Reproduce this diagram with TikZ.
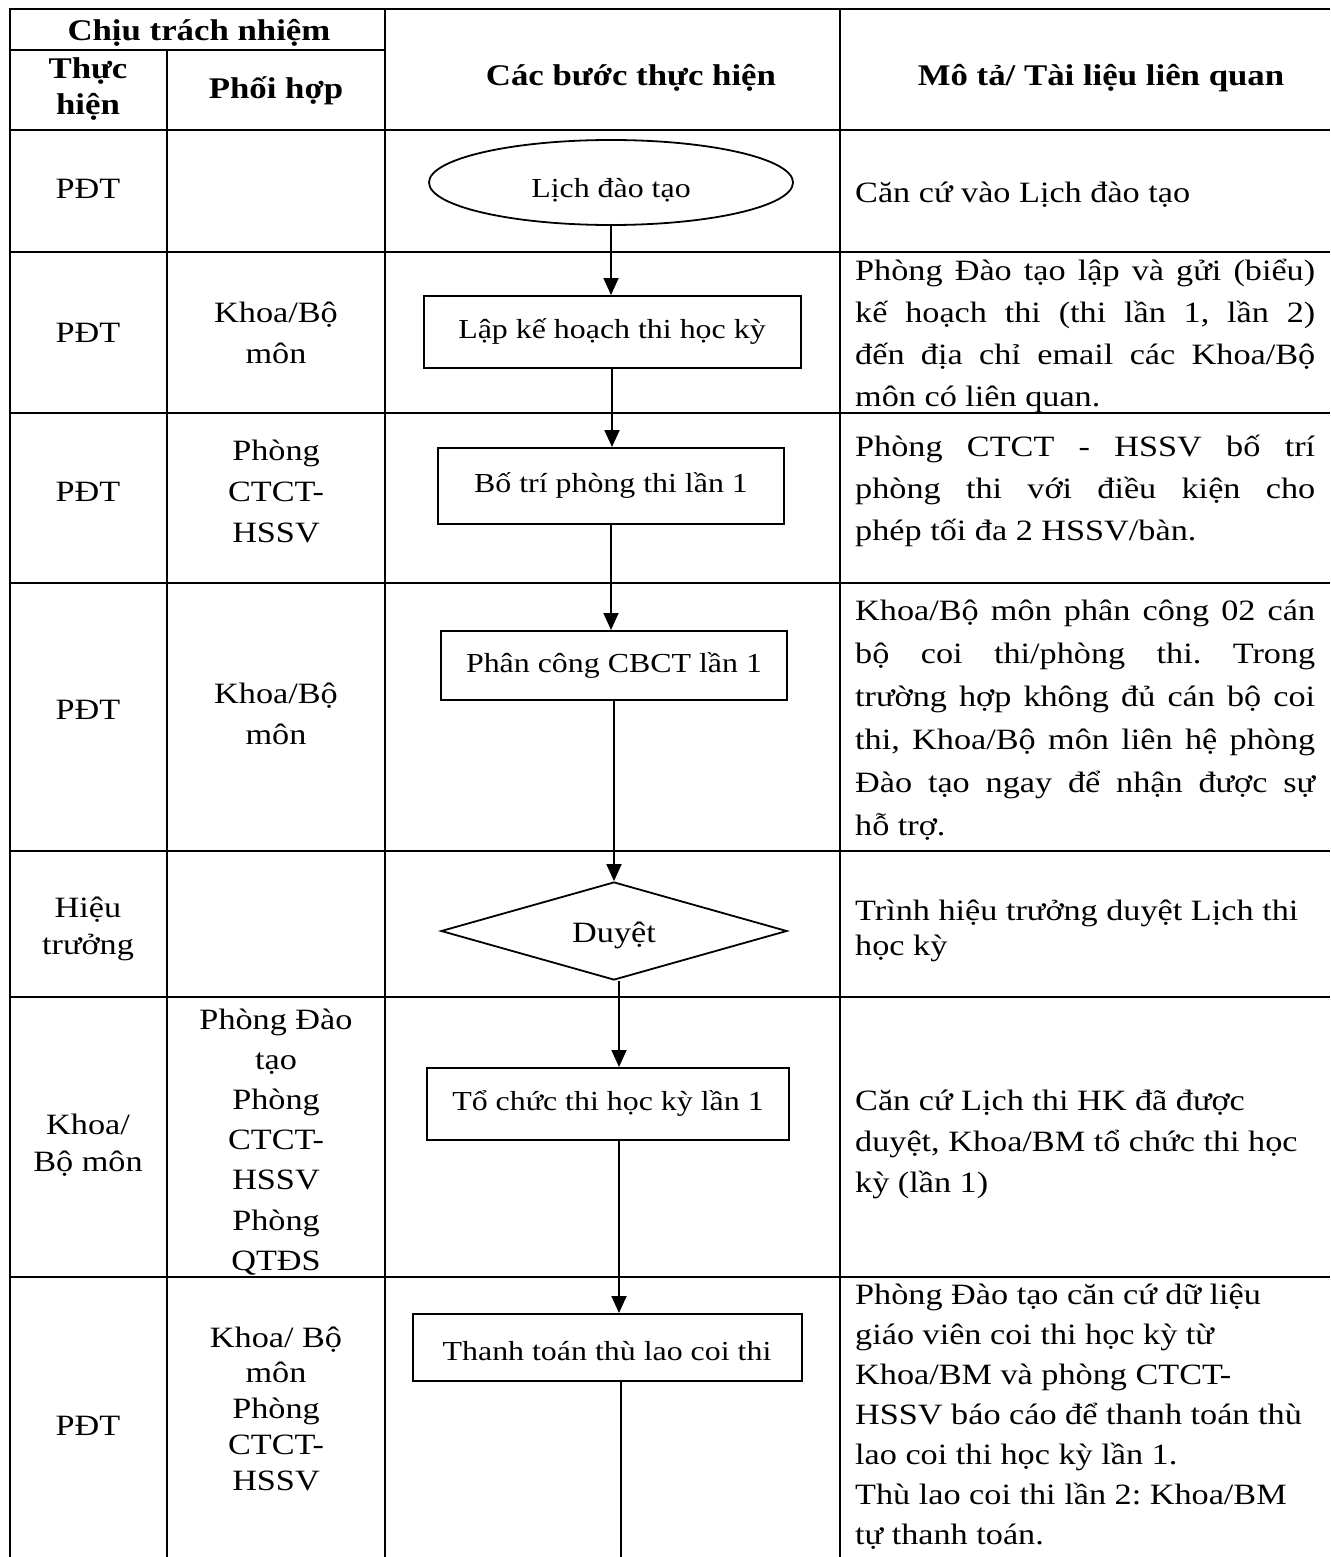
\documentclass[tikz,border=0pt]{standalone}
\usepackage{fontspec}
\setmainfont{Liberation Serif}[FakeStretch=1.16]
\usetikzlibrary{shapes.geometric,arrows.meta}
\frenchspacing
\newcommand\jl[1]{\makebox[460pt][s]{#1}}
\tikzset{
  tx/.style={inner sep=0pt, anchor=base, font=\fontsize{29.5}{36}\selectfont\frenchspacing},
  dx/.style={tx, anchor=base west},
  hx/.style={inner sep=0pt, anchor=base, font=\bfseries\fontsize{30}{36}\selectfont},
  bx/.style={draw, line width=2pt, inner sep=0pt, text height=20pt, text depth=7pt,
             font=\fontsize{27.5}{33}\selectfont},
  hl/.style={line width=2.8pt},
  vl/.style={line width=2pt},
  arr/.style={line width=1.8pt, -{Triangle[length=17pt,width=15pt]}},
}
\begin{document}
\begin{tikzpicture}[x=1pt,y=-1pt]
\useasboundingbox (0,0) rectangle (1330,1557);
\fill[white] (0,0) rectangle (1330,1557);
% table grid
\foreach \yy in {9,130,252,413,583,851,997,1277}
  \draw[hl] (9,\yy) -- (1330,\yy);
\draw[hl] (9,50) -- (385,50);
\draw[vl] (10,8) -- (10,1557);
\draw[vl] (167,50) -- (167,1557);
\draw[vl] (385,8) -- (385,1557);
\draw[vl] (840,8) -- (840,1557);
% header
\node[hx] (hC) at (199,41) {Chịu trách nhiệm};
\node[hx] (hT1) at (88,79) {Thực};
\node[hx] (hT2) at (88,115) {hiện};
\node[hx] (hP) at (276,99) {Phối hợp};
\node[hx] (hS) at (631,86) {Các bước thực hiện};
\node[hx] (hM) at (1101,86) {Mô tả/ Tài liệu liên quan};
% flow shapes
\node[ellipse, draw, line width=1.8pt, minimum width=364pt, minimum height=85pt, inner sep=0pt,
      text height=30pt, text depth=0pt, font=\fontsize{27.5}{33}\selectfont] (e1) at (611,182.5) {Lịch đào tạo};
\node[bx, minimum width=377pt, minimum height=72pt] (b2) at (612,332) {Lập kế hoạch thi học kỳ};
\node[bx, minimum width=346pt, minimum height=76pt] (b3) at (611,486) {Bố trí phòng thi lần 1};
\node[bx, minimum width=346pt, minimum height=69pt] (b4) at (614,665.5) {Phân công CBCT lần 1};
\node[diamond, draw, line width=1.8pt, aspect=3.5, minimum width=346pt, minimum height=98pt, inner sep=0pt,
      text height=22pt, text depth=0pt, font=\fontsize{29.5}{36}\selectfont] (d5) at (614,931) {Duyệt};
\node[bx, minimum width=362pt, minimum height=72pt] (b6) at (608,1104) {Tổ chức thi học kỳ lần 1};
\node[bx, minimum width=389pt, minimum height=67pt, text height=25pt, text depth=0pt] (b7) at (607,1347.5) {Thanh toán thù lao coi thi};
\coordinate (cut) at (621,1574);
% connectors
\draw[arr] (e1.south) -- (e1.south |- b2.north);
\draw[arr] (b2.south) -- (b2.south |- b3.north);
\draw[arr] (b3.south) -- (b3.south |- b4.north);
\draw[arr] (b4.south) -- (d5.north);
\draw[arr] ([xshift=5pt]d5.south) -- ([xshift=5pt]d5.south |- b6.north);
\draw[arr] ([xshift=11pt]b6.south) -- ([xshift=11pt]b6.south |- b7.north);
\begin{scope}
\clip (0,0) rectangle (1330,1557);
\draw[arr] (b7.south -| cut) -- (cut);
\end{scope}
% row 1
\node[tx] (c11) at (88,199) {PĐT};
\node[dx] (d1) at (855,203) {Căn cứ vào Lịch đào tạo};
% row 2
\node[tx] (c21) at (88,342) {PĐT};
\node[tx] (c22a) at (276,322) {Khoa/Bộ};
\node[tx] (c22b) at (276,363) {môn};
\node[dx] (d2a) at (855,280) {\jl{Phòng Đào tạo lập và gửi (biểu)}};
\node[dx] (d2b) at (855,322) {\jl{kế hoạch thi (thi lần 1, lần 2)}};
\node[dx] (d2c) at (855,364) {\jl{đến địa chỉ email các Khoa/Bộ}};
\node[dx] (d2d) at (855,406) {môn có liên quan.};
% row 3
\node[tx] (c31) at (88,501) {PĐT};
\node[tx] (c32a) at (276,460) {Phòng};
\node[tx] (c32b) at (276,501) {CTCT-};
\node[tx] (c32c) at (276,542) {HSSV};
\node[dx] (d3a) at (855,456) {\jl{Phòng CTCT - HSSV bố trí}};
\node[dx] (d3b) at (855,498) {\jl{phòng thi với điều kiện cho}};
\node[dx] (d3c) at (855,540) {phép tối đa 2 HSSV/bàn.};
% row 4
\node[tx] (c41) at (88,719) {PĐT};
\node[tx] (c42a) at (276,703) {Khoa/Bộ};
\node[tx] (c42b) at (276,744) {môn};
\node[dx] (d4a) at (855,620) {\jl{Khoa/Bộ môn phân công 02 cán}};
\node[dx] (d4b) at (855,663) {\jl{bộ coi thi/phòng thi. Trong}};
\node[dx] (d4c) at (855,706) {\jl{trường hợp không đủ cán bộ coi}};
\node[dx] (d4d) at (855,749) {\jl{thi, Khoa/Bộ môn liên hệ phòng}};
\node[dx] (d4e) at (855,792) {\jl{Đào tạo ngay để nhận được sự}};
\node[dx] (d4f) at (855,835) {hỗ trợ.};
% row 5
\node[tx] (c51a) at (88,917) {Hiệu};
\node[tx] (c51b) at (88,954) {trưởng};
\node[dx] (d5a) at (855,920) {Trình hiệu trưởng duyệt Lịch thi};
\node[dx] (d5b) at (855,955) {học kỳ};
% row 6
\node[tx] (c61a) at (88,1134) {Khoa/};
\node[tx] (c61b) at (88,1171) {Bộ môn};
\foreach \t [count=\i] in {Phòng Đào,tạo,Phòng,CTCT-,HSSV,Phòng,QTĐS}
  \node[tx] (c62\i) at (276,{1029+40.2*(\i-1)}) {\t};
\node[dx] (d6a) at (855,1110) {Căn cứ Lịch thi HK đã được};
\node[dx] (d6b) at (855,1151) {duyệt, Khoa/BM tổ chức thi học};
\node[dx] (d6c) at (855,1192) {kỳ (lần 1)};
% row 7
\node[tx] (c71) at (88,1435) {PĐT};
\foreach \t [count=\i] in {Khoa/ Bộ,môn,Phòng,CTCT-,HSSV}
  \node[tx] (c72\i) at (276,{1347+35.8*(\i-1)}) {\t};
\foreach \t [count=\i] in {Phòng Đào tạo căn cứ dữ liệu,giáo viên coi thi học kỳ từ,Khoa/BM và phòng CTCT-,HSSV báo cáo để thanh toán thù,lao coi thi học kỳ lần 1.,Thù lao coi thi lần 2: Khoa/BM,tự thanh toán.}
  \node[dx] (d7\i) at (855,{1304+40*(\i-1)}) {\t};
\end{tikzpicture}
\end{document}
